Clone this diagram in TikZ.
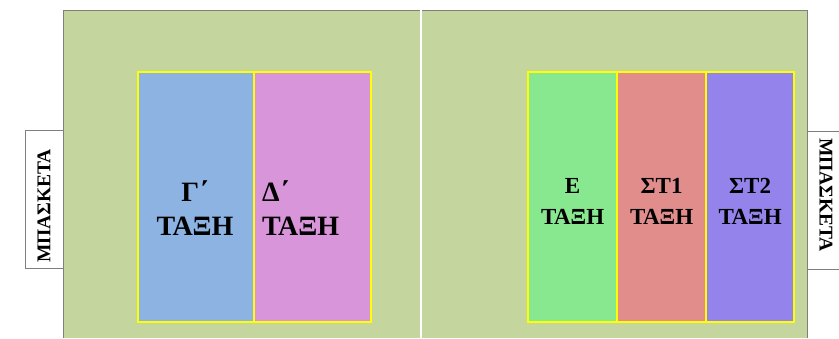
\documentclass[tikz,border=0pt]{standalone}
\usepackage{fontspec}
\setmainfont{Liberation Serif}
\usetikzlibrary{positioning}
\definecolor{CourtGreen}{HTML}{C4D59D}
\definecolor{CourtEdge}{HTML}{7F7F7F}
\definecolor{ClassBlue}{HTML}{8DB3E2}
\definecolor{ClassPink}{HTML}{D995D9}
\definecolor{ClassGreen}{HTML}{88E88F}
\definecolor{ClassRed}{HTML}{E08D8C}
\definecolor{ClassViolet}{HTML}{9483EA}
\definecolor{LineYellow}{HTML}{FFFF00}
\tikzset{
  classcell/.style={draw=LineYellow,line width=2.2pt,minimum height=250pt,inner sep=0pt,anchor=north west},
  classlabel/.style={align=center,inner sep=0pt,font=\bfseries\fontsize{28}{34}\selectfont},
  smalllabel/.style={align=center,inner sep=0pt,font=\bfseries\fontsize{23}{31}\selectfont},
  basketbox/.style={draw=CourtEdge,fill=white,line width=0.8pt,minimum width=138pt,minimum height=38pt,inner sep=0pt},
  basketlabel/.style={inner sep=0pt,font=\bfseries\fontsize{19.5}{22}\selectfont}
}
\begin{document}
\begin{tikzpicture}[x=1pt,y=-1pt]
\useasboundingbox (0,0) rectangle (839,338);
% court
\fill[CourtGreen] (63,10) rectangle (807,338);
\draw[CourtEdge,line width=0.8pt] (63,338) -- (63,10) -- (807,10) -- (807,338);
\draw[white,line width=2pt] (421,10) -- (421,338);
% baskets
\node[basketbox,rotate=90] (basketL) at (44,199) {};
\node[basketbox,rotate=-90] (basketR) at (826,200) {};
\node[basketlabel,rotate=90] (basketLT) at ([yshift=-7pt]basketL.center) {ΜΠΑΣΚΕΤΑ};
\node[basketlabel,rotate=-90] (basketRT) at ([yshift=5pt]basketR.center) {ΜΠΑΣΚΕΤΑ};
% left half
\node[classcell,fill=ClassBlue,minimum width=116pt] (gamma) at (137,71) {};
\node[classcell,fill=ClassPink,minimum width=117pt] (delta) at (253,71) {};
\node[classlabel] (gammaT) at (195,208.5) {Γ΄\\ΤΑΞΗ};
\node[classlabel,align=left,anchor=west] (deltaT) at (262,208.5) {Δ΄\\ΤΑΞΗ};
% right half
\node[classcell,fill=ClassGreen,minimum width=89pt] (eps) at (527,71) {};
\node[classcell,fill=ClassRed,minimum width=89pt] (st1) at (616,71) {};
\node[classcell,fill=ClassViolet,minimum width=88pt] (st2) at (705,71) {};
\node[smalllabel] (epsT) at (eps.center |- 0,201) {Ε\\ΤΑΞΗ};
\node[smalllabel] (st1T) at (st1.center |- 0,201) {ΣΤ1\\ΤΑΞΗ};
\node[smalllabel] (st2T) at (st2.center |- 0,201) {ΣΤ2\\ΤΑΞΗ};
\end{tikzpicture}
\end{document}
